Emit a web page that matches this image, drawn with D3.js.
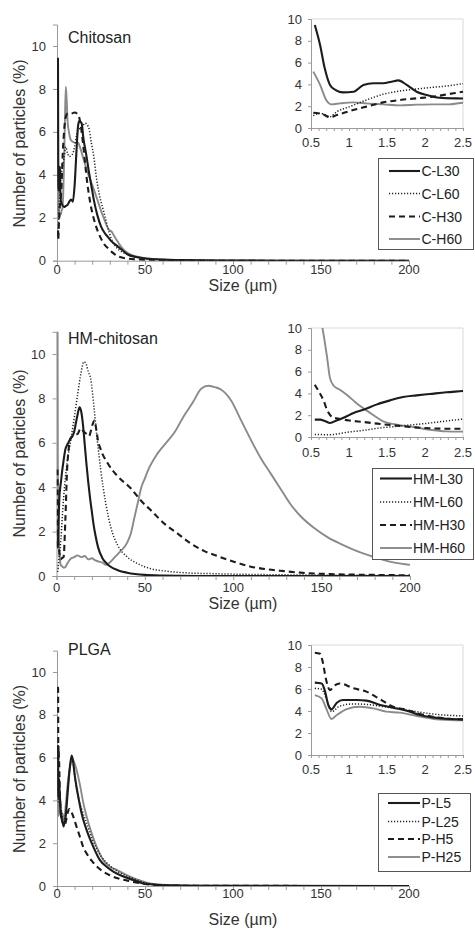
<!DOCTYPE html>
<html><head><meta charset="utf-8">
<script src="https://cdn.jsdelivr.net/npm/d3@7"></script>
<style>
html,body{margin:0;padding:0;background:#fff;}
svg{display:block;font-family:"Liberation Sans",Arial,sans-serif;}
</style></head>
<body><svg id="c" width="475" height="931"></svg>
<script>
// ---------- data ----------
const xTicksMain = [0, 50, 100, 150, 200];
const yTicksMain = [0, 2, 4, 6, 8, 10];
const xTicksInset = [0.5, 1, 1.5, 2, 2.5];
const yTicksInset = [0, 2, 4, 6, 8, 10];
const panelTitles = ["Chitosan", "HM-chitosan", "PLGA"];
const seriesNames = [
  ["C-L30", "C-L60", "C-H30", "C-H60"],
  ["HM-L30", "HM-L60", "HM-H30", "HM-H60"],
  ["P-L5", "P-L25", "P-H5", "P-H25"]
];
const xLabel = "Size (µm)";
const yLabel = "Number of particles (%)";

// Chitosan  [size µm, % particles]
const cL30 = [[0.55,9.45],[0.62,7.6],[0.68,5.5],[0.75,3.95],[0.82,3.5],[0.92,3.27],[1.06,3.33],[1.19,3.95],[1.32,4.1],[1.45,4.1],[1.56,4.25],[1.65,4.37],[1.76,3.95],[1.89,3.33],[2.02,3.03],[2.19,2.78],[2.5,2.7],[3,2.6],[4,2.5],[5,2.55],[6,2.6],[7,2.75],[8,2.85],[9,2.75],[10,3.5],[11,5.0],[12,6.3],[12.7,6.5],[14,6.4],[15,5.7],[16.5,5.0],[18,4.2],[19.5,3.5],[21,2.8],[23,2.1],[25,1.6],[27,1.3],[29,1.1],[31,0.9],[34,0.7],[37,0.5],[40,0.3],[45,0.17],[50,0.1],[60,0.05],[70,0.03],[90,0.01],[120,0],[200,0]];
const cL60 = [[0.53,1.13],[0.62,1.35],[0.75,1.04],[0.84,1.5],[1.01,1.96],[1.23,2.57],[1.45,3.09],[1.67,3.39],[1.89,3.58],[2.1,3.73],[2.32,3.88],[2.5,4.07],[3,4.3],[4,4.8],[5,5.3],[6,5.0],[7,4.85],[8,4.9],[9,5.0],[10,5.3],[11,5.8],[12,6.1],[14,6.2],[16,6.4],[18,6.2],[19.5,5.5],[21,4.8],[22.5,3.8],[24,3.1],[26.5,2.3],[29,1.5],[31,1.0],[34,0.6],[37,0.4],[40,0.3],[45,0.17],[50,0.1],[60,0.04],[70,0.02],[100,0],[200,0]];
const cH30 = [[0.53,1.4],[0.66,1.25],[0.75,0.98],[0.84,1.19],[1.01,1.56],[1.23,1.96],[1.45,2.35],[1.67,2.57],[1.89,2.72],[2.1,2.87],[2.32,3.12],[2.5,3.33],[3,4.5],[4,6.0],[5,6.7],[6,6.85],[8,6.85],[10,6.9],[12,6.8],[13.5,6.3],[15,5.3],[17,3.75],[19,2.65],[21.8,1.7],[24.6,1.1],[27,0.75],[29.4,0.55],[32,0.35],[34,0.23],[40,0.1],[50,0.04],[60,0.02],[80,0],[200,0]];
const cH60 = [[0.53,5.17],[0.62,3.95],[0.7,2.57],[0.77,2.17],[0.88,2.26],[1.06,2.35],[1.23,2.26],[1.45,2.17],[1.67,2.08],[1.89,2.14],[2.1,2.17],[2.32,2.17],[2.5,2.32],[3,2.4],[3.5,3.0],[4,4.5],[4.5,6.5],[5,8.1],[5.5,7.5],[6,6.5],[7,5.9],[8,5.6],[10,5.5],[12,5.5],[13,5.3],[15,4.75],[17,4.2],[19,3.75],[21,3.3],[22.7,2.9],[24.5,2.45],[26.5,2.0],[29.4,1.45],[31,1.35],[32.5,1.15],[34,0.95],[36,0.7],[38,0.5],[40.7,0.33],[45,0.2],[50,0.12],[55,0.08],[70,0.03],[100,0.01],[200,0]];

// HM-chitosan
const hmL30 = [[0.55,1.59],[0.62,1.59],[0.69,1.44],[0.75,1.28],[0.84,1.53],[0.95,1.83],[1.06,2.2],[1.19,2.5],[1.36,2.97],[1.54,3.36],[1.71,3.67],[1.89,3.82],[2.06,3.94],[2.28,4.1],[2.5,4.22],[3,4.6],[4,5.2],[5,5.7],[6,5.9],[7,6.05],[8,6.2],[9,6.3],[10,6.5],[11,6.9],[12,7.3],[13,7.6],[14,7.4],[15,6.8],[16,5.9],[17,5.0],[18,4.2],[19,3.5],[20,2.9],[21,2.3],[22,1.85],[23.5,1.3],[26,0.8],[28,0.6],[30,0.45],[35,0.25],[40,0.15],[50,0.05],[60,0.02],[80,0],[200,0]];
const hmL60 = [[0.55,0.24],[0.75,0.21],[0.97,0.43],[1.19,0.61],[1.41,0.83],[1.63,0.98],[1.85,1.13],[2.06,1.28],[2.28,1.47],[2.5,1.65],[3,2.3],[4,3.5],[5,4.4],[6,5.1],[8,6.1],[10,7.1],[12,8.2],[14,9.2],[15.5,9.65],[16.5,9.6],[18,9.2],[19.3,8.9],[21.2,7.6],[23.1,6.1],[25,4.8],[27.8,3.3],[30.7,2.2],[34.5,1.4],[40,0.86],[45.8,0.56],[53.4,0.33],[63,0.21],[72,0.15],[91,0.1],[120,0.06],[150,0.04],[200,0.02]];
const hmH30 = [[0.55,4.8],[0.6,4.2],[0.67,3.27],[0.71,2.5],[0.78,1.83],[0.88,1.65],[1.02,1.5],[1.19,1.38],[1.41,1.19],[1.63,1.04],[1.85,0.89],[2.06,0.8],[2.28,0.76],[2.5,0.76],[3,0.8],[4,0.85],[5,2.5],[6,4.8],[7,5.8],[8,6.2],[10,6.35],[12,6.4],[13.6,6.65],[15.5,6.5],[17,6.4],[18.4,6.3],[20.3,6.8],[21.5,7.0],[22.5,6.6],[23.5,6.1],[25,5.7],[28.8,5.1],[34.5,4.5],[42,3.95],[47.7,3.4],[53.4,2.96],[61,2.36],[68.6,1.91],[76,1.46],[83.7,1.12],[91,0.9],[100,0.65],[110,0.42],[119.4,0.3],[128.8,0.22],[138,0.15],[157,0.08],[180,0.05],[200,0.03]];
const hmH60 = [[0.55,14],[0.6,12],[0.67,9.2],[0.71,7.4],[0.75,5.4],[0.8,4.7],[0.88,4.34],[0.97,3.88],[1.1,3.1],[1.28,2.2],[1.45,1.44],[1.63,1.13],[1.85,0.92],[2.06,0.67],[2.28,0.52],[2.5,0.49],[3,0.45],[4,0.38],[5,0.4],[6,0.55],[8,0.78],[10,0.85],[12,0.93],[14,0.85],[16,0.9],[18,0.75],[20,0.8],[22,0.7],[24,0.65],[26,0.6],[28,0.5],[30,0.6],[33,0.85],[36,1.1],[40,1.5],[42,1.9],[44,2.6],[46,3.3],[48,4.0],[50,4.4],[52,4.8],[57,5.5],[62,6.0],[67,6.5],[72,7.2],[77,7.8],[82,8.45],[86,8.57],[90,8.5],[93,8.4],[98.6,7.93],[104.3,7.03],[110,6.13],[115.6,5.3],[121.3,4.6],[127,3.9],[132.7,3.2],[138.4,2.67],[146,2.15],[153.5,1.74],[161,1.44],[168.6,1.17],[176,0.95],[183.8,0.75],[191.3,0.6],[200,0.5]];

// PLGA
const pL5 = [[0.55,6.58],[0.64,6.5],[0.68,5.9],[0.73,4.5],[0.77,4.15],[0.84,4.75],[0.92,5.0],[1.1,5.0],[1.23,4.94],[1.41,4.55],[1.58,4.3],[1.76,4.03],[1.93,3.64],[2.1,3.42],[2.32,3.27],[2.5,3.24],[3,3.0],[4,2.85],[5,3.3],[6,4.3],[7,5.3],[8.3,6.1],[9,5.9],[10.2,5.1],[12.1,4.17],[14,3.39],[16.9,2.6],[20.6,1.84],[24.4,1.21],[28.2,0.9],[32,0.67],[37.7,0.44],[43.4,0.28],[49,0.12],[55,0.07],[60,0.03],[80,0.01],[200,0]];
const pL25 = [[0.55,6.06],[0.64,5.97],[0.73,4.55],[0.77,3.94],[0.88,4.45],[1.05,4.64],[1.23,4.6],[1.45,4.4],[1.67,4.18],[1.89,3.94],[2.1,3.73],[2.32,3.6],[2.5,3.55],[3,3.2],[4,3.0],[5,3.4],[6,4.4],[7,5.3],[8.5,6.0],[9.5,5.5],[11,4.6],[12.5,4.0],[14,3.6],[17,2.9],[20,2.2],[25,1.4],[30,0.95],[35,0.65],[40,0.45],[45,0.3],[50,0.15],[55,0.08],[60,0.04],[80,0.01],[200,0]];
const pH5 = [[0.55,9.3],[0.62,9.2],[0.65,8.6],[0.7,6.8],[0.75,5.9],[0.79,6.2],[0.88,6.5],[1.06,6.06],[1.23,5.76],[1.41,5.06],[1.58,4.4],[1.76,4.1],[1.93,3.73],[2.1,3.48],[2.32,3.3],[2.5,3.24],[3,3.1],[4,2.75],[5,3.0],[6,3.4],[7,3.6],[8,3.5],[9,3.3],[11,2.8],[13,2.3],[15,1.8],[17,1.5],[20,1.15],[25,0.75],[30,0.5],[35,0.35],[40,0.25],[50,0.1],[60,0.03],[80,0.01],[200,0]];
const pH25 = [[0.55,5.45],[0.64,5.15],[0.7,4.24],[0.77,3.27],[0.84,3.64],[0.97,4.18],[1.14,4.39],[1.32,4.24],[1.49,3.94],[1.67,3.85],[1.89,3.55],[2.1,3.3],[2.32,3.18],[2.5,3.15],[3,3.4],[4,3.1],[5,3.8],[6,4.7],[7.5,5.6],[8.9,5.9],[11.2,5.4],[13.1,4.7],[15,3.86],[16.9,3.23],[19.7,2.46],[22.5,1.84],[26.3,1.21],[30.1,0.9],[33.9,0.75],[39.6,0.51],[45.3,0.31],[51,0.16],[60,0.06],[70,0.03],[90,0.01],[200,0]];

const panelSeries = [[cL30, cL60, cH30, cH60], [hmL30, hmL60, hmH30, hmH60], [pL5, pL25, pH5, pH25]];

// ---------- styles / layout ----------
const styles = [
  {stroke: "#1c1c1c", width: 2.1, dash: null},
  {stroke: "#222", width: 1.5, dash: "1.2,1.8"},
  {stroke: "#1c1c1c", width: 2.1, dash: "6,4"},
  {stroke: "#8a8a8a", width: 1.9, dash: null}
];
const layouts = [
  {x0:57, x1:409, y0:260.7, ppu:21.47, title:[68,42.7], xlab:[243,291], ylab:[25,143.5], tickBase:274,
   ix0:311, ix1:463, iy0:128, iy1:19, ixlab:147,
   leg:{x:378, y:158, w:96, h:91, rows:[171,193.5,216.5,239], lx0:389, lx1:420, tx:421.5}},
  {x0:56.5, x1:410, y0:576, ppu:22.2, title:[68,344.3], xlab:[243,609], ylab:[25,453.5], tickBase:592,
   ix0:311, ix1:463, iy0:437, iy1:328, ixlab:457,
   leg:{x:372, y:468, w:102, h:91, rows:[478.5,502,525,548], lx0:380, lx1:412, tx:413}},
  {x0:57, x1:409, y0:886, ppu:21.4, title:[68,655], xlab:[243,925], ylab:[25,769], tickBase:898,
   ix0:311, ix1:463, iy0:755, iy1:645, ixlab:774,
   leg:{x:378, y:793, w:93, h:78, rows:[803,821.5,839,857], lx0:388, lx1:420, tx:421.5}}
];

const svg = d3.select("#c");
const axisCol = "#9a9a9a";
const txtCol = "#333";

function styleLine(sel, st) {
  sel.attr("fill", "none").attr("stroke", st.stroke).attr("stroke-width", st.width)
     .attr("stroke-linejoin", "round");
  if (st.dash) sel.attr("stroke-dasharray", st.dash);
}

layouts.forEach((L, p) => {
  const g = svg.append("g");
  const x = d3.scaleLinear().domain([0, 200]).range([L.x0, L.x1]);
  const y = d3.scaleLinear().domain([0, 11]).range([L.y0, L.y0 - 11 * L.ppu]);

  const cid = "clipM" + p;
  svg.append("clipPath").attr("id", cid).append("rect")
    .attr("x", L.x0).attr("y", y(11)).attr("width", L.x1 - L.x0).attr("height", L.y0 - y(11));

  const xa = d3.axisBottom(x).tickValues(d3.range(0, 201, 10)).tickSize(4).tickFormat("");
  const gx = g.append("g").attr("transform", `translate(0,${L.y0})`).call(xa);
  gx.select(".domain").attr("stroke", axisCol);
  gx.selectAll(".tick line").attr("stroke", axisCol);
  const ya = d3.axisLeft(y).tickValues(yTicksMain).tickSize(4).tickFormat("");
  const gy = g.append("g").attr("transform", `translate(${L.x0},0)`).call(ya);
  gy.select(".domain").attr("stroke", axisCol);
  gy.selectAll(".tick line").attr("stroke", axisCol);

  g.selectAll(".xl").data(xTicksMain).enter().append("text")
    .attr("x", d => x(d)).attr("y", L.tickBase).attr("text-anchor", "middle")
    .attr("font-size", 13).attr("fill", txtCol).text(d => d);
  g.selectAll(".yl").data(yTicksMain).enter().append("text")
    .attr("x", L.x0 - 11).attr("y", d => y(d) + 4.6).attr("text-anchor", "end")
    .attr("font-size", 13).attr("fill", txtCol).text(d => d);

  g.append("text").attr("x", L.xlab[0]).attr("y", L.xlab[1]).attr("text-anchor", "middle")
    .attr("font-size", 16).attr("fill", txtCol).text(xLabel);
  g.append("text").attr("transform", `translate(${L.ylab[0]},${L.ylab[1]}) rotate(-90)`)
    .attr("text-anchor", "middle").attr("font-size", 16).attr("fill", txtCol).text(yLabel);
  g.append("text").attr("x", L.title[0]).attr("y", L.title[1])
    .attr("font-size", 16).attr("fill", "#222").text(panelTitles[p]);

  const line = d3.line().x(d => x(d[0])).y(d => y(d[1])).curve(d3.curveMonotoneX);
  const gl = g.append("g").attr("clip-path", `url(#${cid})`);
  [3, 1, 2, 0].forEach(i => {
    gl.append("path").datum(panelSeries[p][i]).attr("d", line).call(styleLine, styles[i]);
  });

  // inset
  const ix = d3.scaleLinear().domain([0.5, 2.5]).range([L.ix0, L.ix1]);
  const iy = d3.scaleLinear().domain([0, 10]).range([L.iy0, L.iy1]);
  const icid = "clipI" + p;
  svg.append("clipPath").attr("id", icid).append("rect")
    .attr("x", L.ix0).attr("y", L.iy1).attr("width", L.ix1 - L.ix0).attr("height", L.iy0 - L.iy1);
  const gi = g.append("g");
  gi.append("path").attr("d", `M${L.ix0},${L.iy1}H${L.ix1}V${L.iy0}`)
    .attr("fill", "none").attr("stroke", "#d9d9d9").attr("stroke-width", 1);
  const ixa = d3.axisBottom(ix).tickValues(d3.range(5, 26).map(v => v / 10)).tickSize(3).tickFormat("");
  const gix = gi.append("g").attr("transform", `translate(0,${L.iy0})`).call(ixa);
  gix.select(".domain").attr("stroke", axisCol);
  gix.selectAll(".tick line").attr("stroke", axisCol);
  const iya = d3.axisLeft(iy).tickValues(yTicksInset).tickSize(3).tickFormat("");
  const giy = gi.append("g").attr("transform", `translate(${L.ix0},0)`).call(iya);
  giy.select(".domain").attr("stroke", axisCol);
  giy.selectAll(".tick line").attr("stroke", axisCol);
  gi.selectAll(".ixl").data(xTicksInset).enter().append("text")
    .attr("x", d => ix(d)).attr("y", L.ixlab).attr("text-anchor", "middle")
    .attr("font-size", 13).attr("fill", txtCol).text(d => d);
  gi.selectAll(".iyl").data(yTicksInset).enter().append("text")
    .attr("x", L.ix0 - 9).attr("y", d => iy(d) + 4.5).attr("text-anchor", "end")
    .attr("font-size", 13).attr("fill", txtCol).text(d => d);
  const iline = d3.line().x(d => ix(d[0])).y(d => iy(d[1])).curve(d3.curveMonotoneX);
  const gil = gi.append("g").attr("clip-path", `url(#${icid})`);
  [3, 1, 2, 0].forEach(i => {
    const pts = panelSeries[p][i].filter(d => d[0] <= 3);
    gil.append("path").datum(pts).attr("d", iline).call(styleLine, styles[i]);
  });

  // legend
  const lg = L.leg;
  g.append("rect").attr("x", lg.x + 0.5).attr("y", lg.y + 0.5).attr("width", lg.w - 1).attr("height", lg.h)
    .attr("fill", "#fff").attr("stroke", "#555").attr("stroke-width", 1);
  seriesNames[p].forEach((nm, i) => {
    g.append("line").attr("x1", lg.lx0).attr("x2", lg.lx1).attr("y1", lg.rows[i]).attr("y2", lg.rows[i])
      .call(styleLine, styles[i]);
    g.append("text").attr("x", lg.tx).attr("y", lg.rows[i] + 5).attr("font-size", 14)
      .attr("fill", "#222").text(nm);
  });
});
</script>
</body></html>
